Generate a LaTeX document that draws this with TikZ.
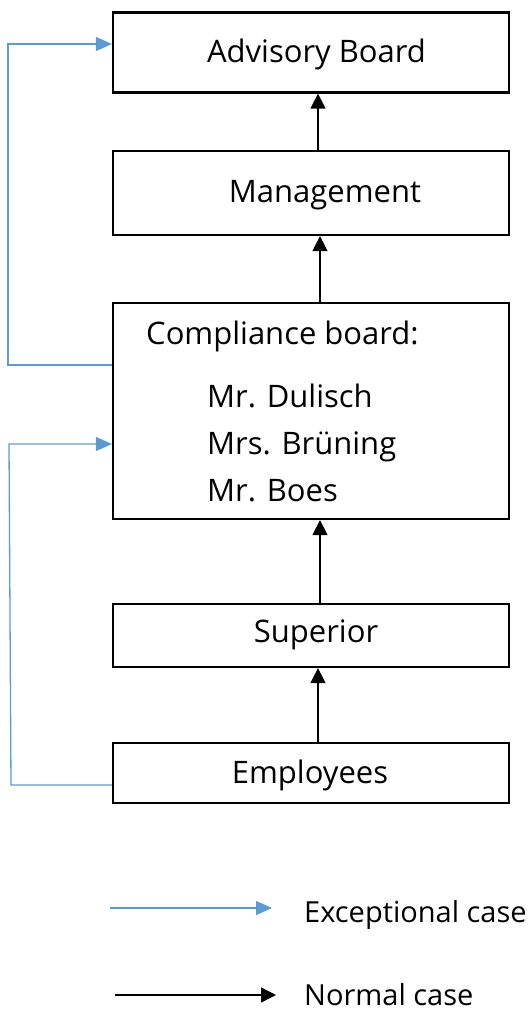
\documentclass[tikz,border=0pt]{standalone}
\usepackage{fontspec}
\setmainfont{Open Sans}
\usetikzlibrary{arrows.meta}
\definecolor{excblue}{HTML}{5B9BD5}
\begin{document}
\begin{tikzpicture}[x=1pt,y=-1pt,
  box/.style={draw=black,line width=2.2pt,minimum width=396pt,inner sep=0pt},
  txt/.style={inner sep=0pt,text depth=0pt,anchor=base,font=\fontsize{31}{37}\selectfont},
  lbl/.style={inner sep=0pt,text depth=0pt,anchor=base west,font=\fontsize{31}{37}\selectfont},
  leg/.style={inner sep=0pt,text depth=0pt,anchor=base west,font=\fontsize{29}{35}\selectfont},
  normal/.style={draw=black,line width=1.3pt,-{Triangle[length=15pt,width=15pt]}},
  exc/.style={draw=excblue,line width=1.3pt,-{Triangle[length=16pt,width=14pt]}}]
\useasboundingbox (0,0) rectangle (532,1013);
\node[box,minimum height=80pt] (adv) at (311,52.5) {};
\node[box,minimum height=84pt] (mgmt) at (311,193) {};
\node[box,minimum height=216pt] (comp) at (311,411) {};
\node[box,minimum height=63pt] (sup) at (311,635.5) {};
\node[box,minimum height=60pt] (emp) at (311,773) {};
\node[txt] (advt) at (316.5,62) {Advisory Board};
\node[txt] (mgmtt) at (325,202) {Management};
\node[lbl] (cb) at (146,344) {Compliance board:};
\node[lbl] (m1) at (207,407) {Mr. Dulisch};
\node[lbl] (m2) at (207,454) {Mrs. Brüning};
\node[lbl] (m3) at (207,501) {Mr. Boes};
\node[txt] (supt) at (316,642) {Superior};
\node[txt] (empt) at (310,783) {Employees};
% normal arrows
\draw[normal] ([xshift=7pt]mgmt.north) -- ([xshift=7pt]adv.south);
\draw[normal] ([xshift=9pt]comp.north) -- ([xshift=9pt]mgmt.south);
\draw[normal] ([xshift=9pt]sup.north) -- ([xshift=9pt]comp.south);
\draw[normal] ([xshift=7pt]emp.north) -- ([xshift=7pt]sup.south);
% exceptional arrows
\coordinate (e1a) at (8,365);
\coordinate (e1b) at (8,44);
\coordinate (e2a) at (11,785);
\coordinate (e2b) at (9,444);
\draw[exc] (comp.west |- e1a) -- (e1a) -- (e1b) -- (adv.west |- e1b);
\draw[exc] (emp.west |- e2a) -- (e2a) -- (e2b) -- (comp.west |- e2b);
% legend
\coordinate (l1a) at (110,908);
\coordinate (l1b) at (272,908);
\coordinate (l2a) at (115,995);
\coordinate (l2b) at (276,995);
\draw[exc] (l1a) -- (l1b);
\draw[normal] (l2a) -- (l2b);
\node[leg] (lt1) at (304,922) {Exceptional case};
\node[leg] (lt2) at (304,1005) {Normal case};
\end{tikzpicture}
\end{document}
